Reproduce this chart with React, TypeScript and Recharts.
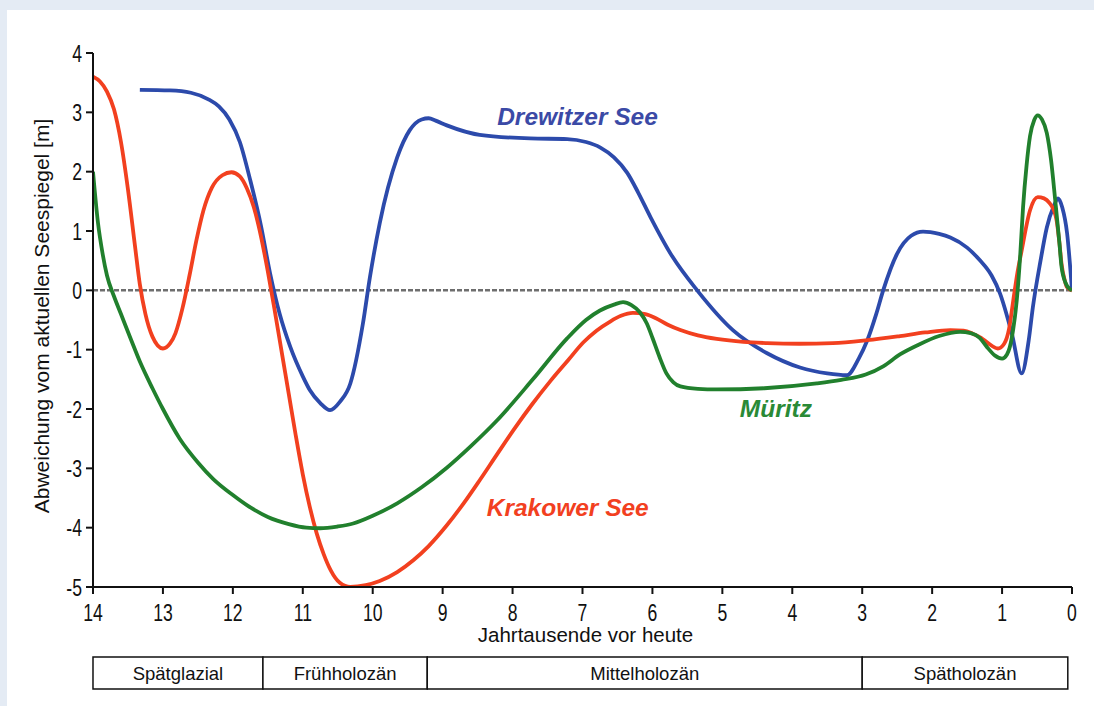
import React from 'react'
import {
  LineChart, Line, XAxis, YAxis, ReferenceLine, ReferenceDot, ReferenceArea,
} from 'recharts'

// Jahrtausende vor heute (ka BP), Seespiegel-Abweichung in m
const xTicks = [14, 13, 12, 11, 10, 9, 8, 7, 6, 5, 4, 3, 2, 1, 0]
const yTicks = [4, 3, 2, 1, 0, -1, -2, -3, -4, -5]

const drewitzerAge = [
  13.33, 12.9, 12.6, 12.35, 12.2, 12.05, 11.9, 11.75, 11.6, 11.47, 11.33, 11.18,
  11.0, 10.9, 10.75, 10.61, 10.47, 10.32, 10.14, 10.04, 9.9, 9.65, 9.47, 9.3, 9.2,
  9.1, 8.94, 8.47, 7.75, 7.22, 6.95, 6.75, 6.55, 6.36, 6.2, 6.03, 5.71, 5.36,
  4.85, 4.36, 3.89, 3.5, 3.22, 3.05, 2.93, 2.8, 2.7, 2.5, 2.3, 2.13, 1.9, 1.74,
  1.5, 1.32, 1.15, 1.03, 0.86, 0.72, 0.62, 0.56, 0.45, 0.36, 0.26, 0.2, 0.14, 0.07, 0.0,
]
const drewitzerLevel = [
  3.38, 3.37, 3.33, 3.22, 3.1, 2.88, 2.5, 1.85, 1.1, 0.3, -0.4, -0.95,
  -1.45, -1.68, -1.9, -2.02, -1.88, -1.57, -0.56, 0.22, 1.13, 2.24, 2.7, 2.88, 2.9,
  2.86, 2.78, 2.62, 2.56, 2.55, 2.5, 2.41, 2.24, 1.98, 1.64, 1.24, 0.56, 0.0,
  -0.67, -1.06, -1.3, -1.4, -1.43, -1.15, -0.85, -0.4, 0.0, 0.62, 0.92, 0.99, 0.95, 0.89,
  0.72, 0.51, 0.25, -0.05, -0.73, -1.4, -0.85, -0.29, 0.5, 1.06, 1.42, 1.55, 1.4, 0.96, 0.0,
]

const krakowerAge = [
  14.0, 13.9, 13.8, 13.7, 13.6, 13.5, 13.4, 13.33, 13.25, 13.15, 13.0, 12.9,
  12.82, 12.72, 12.62, 12.52, 12.42, 12.3, 12.15, 12.02, 11.9, 11.8, 11.7, 11.6,
  11.5, 11.4, 11.3, 11.2, 11.1, 11.0, 10.9, 10.8, 10.7, 10.6, 10.47, 10.32, 10.1,
  9.9, 9.65, 9.42, 9.2, 8.94, 8.7, 8.47, 8.22, 7.99, 7.72, 7.46, 7.2, 6.99, 6.8,
  6.61, 6.45, 6.28, 6.1, 5.95, 5.78, 5.6, 5.35, 5.08, 4.7, 4.36, 3.9, 3.42, 2.93,
  2.46, 2.1, 1.74, 1.55, 1.42, 1.3, 1.2, 1.06, 0.97, 0.9, 0.84, 0.78, 0.72, 0.6,
  0.49, 0.4, 0.32, 0.26, 0.22, 0.18, 0.15, 0.1, 0.07, 0.0,
]
const krakowerLevel = [
  3.6, 3.52, 3.35, 3.05, 2.5, 1.7, 0.75, 0.1, -0.4, -0.78, -0.98, -0.9,
  -0.72, -0.3, 0.25, 0.85, 1.35, 1.73, 1.94, 1.99, 1.92, 1.72, 1.4, 0.92,
  0.32, -0.35, -1.05, -1.75, -2.45, -3.1, -3.65, -4.1, -4.45, -4.72, -4.93, -5.0, -4.97,
  -4.9, -4.75, -4.55, -4.31, -3.96, -3.59, -3.2, -2.76, -2.36, -1.92, -1.53, -1.17, -0.88, -0.68,
  -0.53, -0.43, -0.38, -0.4, -0.47, -0.58, -0.67, -0.76, -0.82, -0.87, -0.89, -0.9, -0.89, -0.84,
  -0.77, -0.71, -0.67, -0.68, -0.73, -0.8, -0.89, -0.98, -0.9, -0.65, -0.17, 0.3, 0.67, 1.35,
  1.57, 1.55, 1.47, 1.35, 1.18, 0.8, 0.45, 0.15, 0.05, 0.0,
]

const muritzAge = [
  14.0, 13.93, 13.86, 13.8, 13.7, 13.6, 13.45, 13.33, 13.15, 13.0, 12.76, 12.5,
  12.28, 12.0, 11.8, 11.5, 11.2, 10.95, 10.75, 10.5, 10.28, 10.0, 9.65, 9.3, 8.94,
  8.6, 8.22, 7.71, 7.22, 6.95, 6.75, 6.55, 6.42, 6.3, 6.18, 6.08, 6.0, 5.9, 5.8,
  5.7, 5.6, 5.35, 5.08, 4.4, 3.65, 3.3, 2.95, 2.7, 2.46, 2.2, 1.9, 1.6, 1.45, 1.32,
  1.22, 1.1, 1.0, 0.93, 0.89, 0.84, 0.79, 0.74, 0.7, 0.65, 0.6, 0.54, 0.49, 0.43,
  0.36, 0.3, 0.24, 0.18, 0.15, 0.09, 0.03, 0.0,
]
const muritzLevel = [
  2.0, 1.15, 0.6, 0.25, -0.1, -0.4, -0.85, -1.2, -1.65, -2.0, -2.5, -2.9,
  -3.18, -3.45, -3.62, -3.82, -3.94, -4.0, -4.01, -3.98, -3.93, -3.8, -3.59, -3.32, -2.99,
  -2.63, -2.19, -1.5, -0.81, -0.5, -0.34, -0.24, -0.2, -0.25, -0.37, -0.56, -0.8, -1.12, -1.4,
  -1.55, -1.62, -1.66, -1.67, -1.65, -1.57, -1.51, -1.42, -1.28, -1.08, -0.92, -0.77, -0.7, -0.72, -0.8,
  -0.95, -1.1, -1.15, -1.08, -0.96, -0.65, -0.17, 0.6, 1.4, 2.1, 2.6, 2.87, 2.95, 2.88,
  2.65, 2.2, 1.52, 0.8, 0.4, 0.12, 0.02, 0.0,
]

const seriesNames = ['Drewitzer See', 'Krakower See', 'Müritz']
const seriesColors = ['#2c4aab', '#f2401f', '#21802d']
const labelColors = ['#3b4aa6', '#f2401f', '#2a8a36']
const labelAge = [8.22, 8.37, 4.75]
const labelLevel = [2.78, -3.81, -2.14]

const periodNames = ['Spätglazial', 'Frühholozän', 'Mittelholozän', 'Spätholozän']
const periodFrom = [14, 11.57, 9.22, 3.0]
const periodTo = [11.57, 9.22, 3.0, 0.06]

const rows = (ages: number[], levels: number[]) =>
  ages.map((age, i) => ({ age, level: levels[i] }))

const seriesData = [
  rows(drewitzerAge, drewitzerLevel),
  rows(krakowerAge, krakowerLevel),
  rows(muritzAge, muritzLevel),
]

const sans = "'Liberation Sans', Arial, Helvetica, sans-serif"

// tick labels in the original are a condensed face, so squeeze them a bit
function XTick({ x, y, payload }: any) {
  return (
    <text
      transform={`translate(${x} ${y + 27}) scale(0.8 1.08)`}
      textAnchor="middle" fontSize={22} fontFamily={sans} fill="#111"
    >
      {payload.value}
    </text>
  )
}

function YTick({ x, y, payload }: any) {
  return (
    <text
      transform={`translate(${x - 4} ${y}) scale(0.8 1.08)`}
      dy="0.36em" textAnchor="end" fontSize={22} fontFamily={sans} fill="#111"
    >
      {payload.value}
    </text>
  )
}

function YTitle({ viewBox }: any) {
  const cx = viewBox.x + 41
  const cy = viewBox.y + viewBox.height / 2 - 4
  return (
    <text
      x={cx} y={cy} transform={`rotate(-90 ${cx} ${cy})`}
      textAnchor="middle" dominantBaseline="central"
      fontSize={21} fontFamily={sans} fill="#111"
    >
      Abweichung vom aktuellen Seespiegel [m]
    </text>
  )
}

function XTitle({ viewBox }: any) {
  return (
    <text
      x={viewBox.x + viewBox.width / 2 + 3} y={viewBox.y + 55}
      textAnchor="middle" fontSize={20.5} fontFamily={sans} fill="#111"
    >
      Jahrtausende vor heute
    </text>
  )
}

const curveLabel = (i: number) => ({ viewBox }: any) => (
  <text
    x={viewBox.x} y={viewBox.y}
    fontSize={24.5} fontWeight="bold" fontStyle="italic" fontFamily={sans}
    fill={labelColors[i]}
  >
    {seriesNames[i]}
  </text>
)

const periodRows = periodFrom.map((from, i) => ({ age: from, to: periodTo[i] }))

export default function App() {
  return (
    <div style={{ position: 'absolute', left: 0, top: 0, width: 1094, height: 706, background: '#e4ebf4', overflow: 'hidden' }}>
      <div style={{ position: 'absolute', left: 7, top: 10, right: 0, bottom: 0, background: '#fff' }} />

      <div style={{ position: 'absolute', left: 0, top: 0 }}>
        <LineChart width={1094} height={660} margin={{ top: 53, right: 22, left: 0, bottom: 0 }}>
          <XAxis
            type="number"
            dataKey="age"
            domain={[0, 14]}
            reversed
            allowDataOverflow
            ticks={xTicks}
            interval={0}
            height={73}
            tick={<XTick />}
            tickSize={7}
            tickMargin={0}
            axisLine={{ stroke: '#111', strokeWidth: 2 }}
            tickLine={{ stroke: '#111', strokeWidth: 2 }}
            label={XTitle}
          />
          <YAxis
            type="number"
            domain={[-5, 4]}
            allowDataOverflow
            ticks={yTicks}
            interval={0}
            width={93}
            tick={<YTick />}
            tickSize={7}
            tickMargin={0}
            axisLine={{ stroke: '#111', strokeWidth: 2 }}
            tickLine={{ stroke: '#111', strokeWidth: 2 }}
            label={YTitle}
          />
          <ReferenceLine y={0} stroke="#6e6e6e" strokeWidth={2.5} strokeDasharray="5 2" />
          {seriesData.map((data, i) => (
            <Line
              key={seriesNames[i]}
              data={data}
              dataKey="level"
              name={seriesNames[i]}
              type="monotone"
              stroke={seriesColors[i]}
              strokeWidth={3.8}
              dot={false}
              activeDot={false}
              isAnimationActive={false}
            />
          ))}
          {seriesNames.map((name, i) => (
            <ReferenceDot
              key={name}
              x={labelAge[i]}
              y={labelLevel[i]}
              r={0}
              fill="none"
              stroke="none"
              label={curveLabel(i)}
            />
          ))}
        </LineChart>
      </div>

      <div style={{ position: 'absolute', left: 0, top: 650 }}>
        <LineChart width={1094} height={46} data={periodRows} margin={{ top: 7, right: 22, left: 93, bottom: 7 }}>
          <XAxis type="number" dataKey="age" domain={[0, 14]} reversed allowDataOverflow hide />
          <YAxis type="number" domain={[0, 1]} allowDataOverflow hide />
          {periodNames.map((name, i) => (
            <ReferenceArea
              key={name}
              x1={periodFrom[i]}
              x2={periodTo[i]}
              y1={0}
              y2={1}
              fill="#fff"
              fillOpacity={1}
              stroke="#111"
              strokeWidth={1.5}
              label={{ value: name, position: 'center', fill: '#111', fontSize: 18.5, fontFamily: sans }}
            />
          ))}
        </LineChart>
      </div>
    </div>
  )
}
